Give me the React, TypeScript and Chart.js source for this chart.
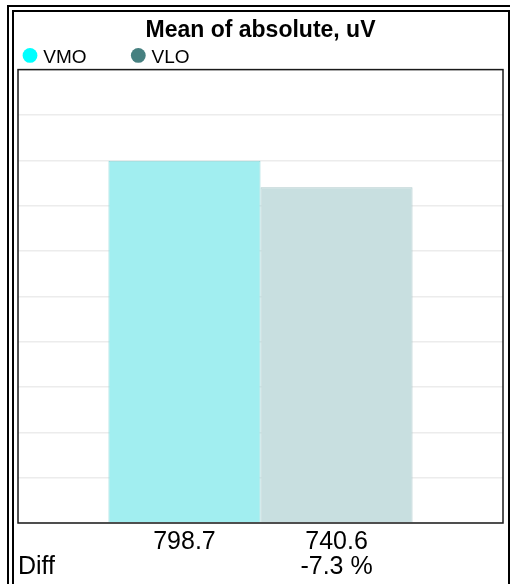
import React, { useEffect, useRef } from "react";
import { Chart, registerables } from "chart.js";

Chart.register(...registerables);

// ---- data ----
const categories = [""];
const seriesNames = ["VMO", "VLO"];
const vmoValues = [798.7];
const vloValues = [740.6];
const yMin = 0;
const yMax = 1000;
const yStep = 100;
const titleText = "Mean of absolute, uV";
const diffLabel = "Diff";

// ---- styles ----
const FONT = "'Liberation Sans', Arial, Helvetica, sans-serif";
const legendColors = ["#00ffff", "#468080"];
const barFills = ["#a1eef0", "#c8dfe0"];
const barBorders = ["#8fd8da", "#b0cbcc"];

const extrasPlugin = {
  id: "extras",
  afterDatasetsDraw(chart: any) {
    const { ctx, chartArea: a } = chart;
    ctx.save();
    // plot frame
    ctx.strokeStyle = "#1a1a1a";
    ctx.lineWidth = 1.5;
    ctx.strokeRect(a.left, a.top, a.right - a.left, a.bottom - a.top);

    // value labels under bars
    ctx.fillStyle = "#000";
    ctx.font = `25px ${FONT}`;
    ctx.textBaseline = "alphabetic";
    ctx.textAlign = "center";
    const ds = chart.data.datasets;
    ds.forEach((d: any, i: number) => {
      const bar = chart.getDatasetMeta(i).data[0];
      ctx.fillText(Number(d.data[0]).toFixed(1), bar.x, a.bottom + 25.5);
    });
    const v0 = Number(ds[0].data[0]);
    const v1 = Number(ds[1].data[0]);
    const diff = ((v1 - v0) / v0) * 100;
    const bar1 = chart.getDatasetMeta(1).data[0];
    ctx.fillText(`${diff.toFixed(1)} %`, bar1.x, a.bottom + 50.5);
    ctx.textAlign = "left";
    ctx.fillText(diffLabel, a.left, a.bottom + 50.5);

    // legend
    const ly = a.top - 14.2;
    const starts = [16, 124.3];
    ctx.font = `19px ${FONT}`;
    ds.forEach((d: any, i: number) => {
      ctx.beginPath();
      ctx.arc(starts[i], ly, 7.4, 0, Math.PI * 2);
      ctx.fillStyle = legendColors[i];
      ctx.fill();
      ctx.fillStyle = "#000";
      ctx.textAlign = "left";
      ctx.fillText(d.label, starts[i] + 13.3, ly + 8);
    });
    ctx.restore();
  },
};

export default function App() {
  const ref = useRef<HTMLCanvasElement | null>(null);
  useEffect(() => {
    if (!ref.current) return;
    const chart = new Chart(ref.current, {
      type: "bar",
      data: {
        labels: categories,
        datasets: [
          {
            label: seriesNames[0],
            data: vmoValues,
            backgroundColor: barFills[0],
            borderColor: barBorders[0],
            borderWidth: 1,
            barPercentage: 1,
            categoryPercentage: 0.627,
          },
          {
            label: seriesNames[1],
            data: vloValues,
            backgroundColor: barFills[1],
            borderColor: barBorders[1],
            borderWidth: 1,
            barPercentage: 1,
            categoryPercentage: 0.627,
          },
        ],
      },
      options: {
        responsive: false,
        animation: false,
        layout: { padding: { left: 4, right: 4, top: 0, bottom: 61 } },
        plugins: {
          legend: { display: false },
          tooltip: { enabled: false },
          title: {
            display: true,
            text: titleText,
            color: "#000",
            font: { family: FONT, size: 23, weight: "bold" },
            padding: { top: 5, bottom: 25 },
          },
        },
        scales: {
          x: { display: false },
          y: {
            min: yMin,
            max: yMax,
            ticks: { display: false, stepSize: yStep },
            grid: { color: "#ececec", lineWidth: 1.5, drawTicks: false },
            border: { display: false },
          },
        },
      },
      plugins: [extrasPlugin],
    });
    return () => chart.destroy();
  }, []);

  return (
    <div
      style={{
        position: "fixed",
        left: 0,
        top: 0,
        width: 510,
        height: 584,
        overflow: "hidden",
        background: "#fff",
      }}
    >
      <div
        style={{
          position: "absolute",
          left: 7,
          top: 5,
          width: 510,
          height: 640,
          border: "2px solid #000",
          boxSizing: "border-box",
        }}
      />
      <div
        style={{
          position: "absolute",
          left: 12,
          top: 10,
          width: 498,
          height: 640,
          border: "2px solid #000",
          boxSizing: "border-box",
        }}
      />
      <div style={{ position: "absolute", left: 14, top: 12, width: 493, height: 572 }}>
        <canvas ref={ref} width={493} height={572} style={{ display: "block" }} />
      </div>
    </div>
  );
}
